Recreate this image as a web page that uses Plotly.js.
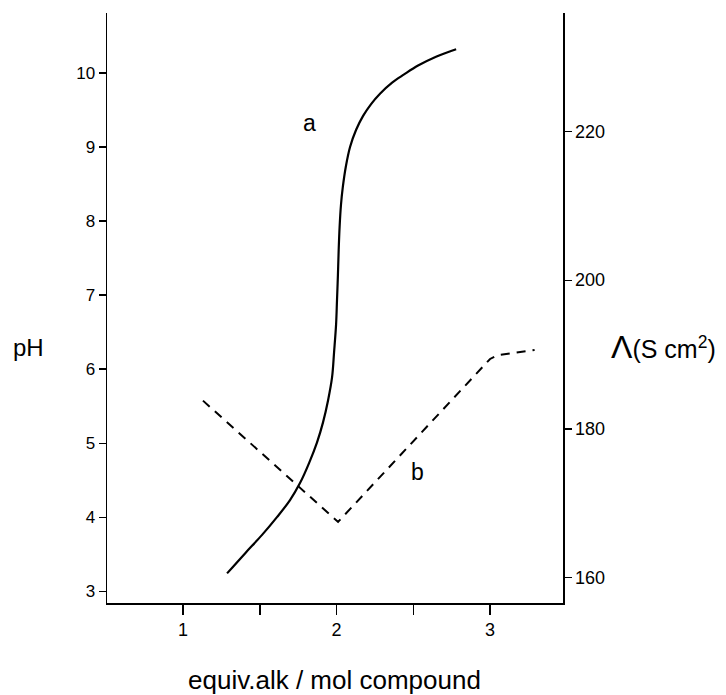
<!DOCTYPE html>
<html>
<head>
<meta charset="utf-8">
<script src="https://cdn.plot.ly/plotly-3.0.1.min.js"></script>
<style>html,body{margin:0;padding:0;background:#fff;}#chart{width:726px;height:695px;}</style>
</head>
<body>
<div id="chart"></div>
<script>
// Curve a: pH vs equivalents of alkali
const phX = [1.287, 1.404, 1.515, 1.612, 1.697, 1.762, 1.821, 1.873, 1.912, 1.945, 1.971, 1.984, 1.997, 2.003, 2.009, 2.014, 2.020, 2.029, 2.041, 2.061, 2.088, 2.127, 2.173, 2.225, 2.283, 2.362, 2.440, 2.531, 2.648, 2.779];
const phY = [3.24, 3.51, 3.76, 4.00, 4.23, 4.46, 4.73, 5.01, 5.28, 5.58, 5.89, 6.23, 6.60, 6.93, 7.27, 7.61, 7.92, 8.22, 8.46, 8.74, 9.00, 9.23, 9.42, 9.58, 9.72, 9.87, 9.98, 10.10, 10.22, 10.32];
// Curve b: molar conductivity vs equivalents of alkali
const condX = [1.13, 2.01, 3.0, 3.05, 3.29];
const condY = [183.8, 167.5, 189.4, 189.9, 190.6];
// Tick labels
const xTickVals = [1, 2, 3];
const xTickText = ['1', '2', '3'];
const xMinorVals = [1.5, 2.5];
const phTicks = [3, 4, 5, 6, 7, 8, 9, 10];
const condTicks = [160, 180, 200, 220];

const font = 'Liberation Sans, Arial, sans-serif';

const traces = [
  {x: phX, y: phY, type: 'scatter', mode: 'lines', line: {color: '#000', width: 2.2, shape: 'spline', smoothing: 1}, yaxis: 'y', hoverinfo: 'skip'},
  {x: condX, y: condY, type: 'scatter', mode: 'lines', line: {color: '#000', width: 2, dash: '9px,7px'}, yaxis: 'y2', hoverinfo: 'skip'}
];

const plotW = 726 - 107 - 163, plotH = 695 - 13 - 92;
function px2paperX(px) { return (px - 107) / plotW; }
function px2paperY(py) { return (695 - 92 - py) / plotH; }

const layout = {
  width: 726, height: 695,
  margin: {l: 107, r: 163, t: 13, b: 92},
  paper_bgcolor: '#fff', plot_bgcolor: '#fff',
  showlegend: false,
  font: {family: font, color: '#000', size: 17},
  xaxis: {
    range: [0.505, 3.475], tickmode: 'array', tickvals: xTickVals, ticktext: xTickText,
    ticks: 'outside', ticklen: 10, tickwidth: 1.5, tickcolor: '#000',
    minor: {tickmode: 'array', tickvals: xMinorVals, ticks: 'outside', ticklen: 10, tickwidth: 1.5, tickcolor: '#000', showgrid: false},
    showline: true, linecolor: '#000', linewidth: 1.5, showgrid: false, zeroline: false,
    tickfont: {family: font, size: 18, color: '#000'}
  },
  yaxis: {
    range: [2.84, 10.81], tickmode: 'array', tickvals: phTicks,
    ticks: 'outside', ticklen: 7, tickwidth: 1.2, tickcolor: '#000',
    showline: true, linecolor: '#000', linewidth: 1.5, showgrid: false, zeroline: false,
    tickfont: {family: font, size: 17, color: '#000'}
  },
  yaxis2: {
    range: [156.6, 235.9], overlaying: 'y', side: 'right', tickmode: 'array', tickvals: condTicks,
    ticks: 'outside', ticklen: 7, tickwidth: 1.2, tickcolor: '#000',
    showline: true, linecolor: '#000', linewidth: 1.5, showgrid: false, zeroline: false,
    tickfont: {family: font, size: 18, color: '#000'}
  },
  annotations: [
    {text: 'a', x: 1.827, y: 9.32, xref: 'x', yref: 'y', xanchor: 'center', yanchor: 'middle', showarrow: false, font: {size: 23}},
    {text: 'b', x: 2.53, y: 4.61, xref: 'x', yref: 'y', xanchor: 'center', yanchor: 'middle', showarrow: false, font: {size: 23}},
    {text: 'pH', x: px2paperX(28), y: px2paperY(347), xref: 'paper', yref: 'paper', xanchor: 'center', yanchor: 'middle', showarrow: false, font: {size: 24}},
    {text: 'equiv.alk / mol compound', xref: 'paper', yref: 'paper', x: px2paperX(334), y: px2paperY(680), xanchor: 'center', yanchor: 'middle', showarrow: false, font: {size: 26}},
    {text: '<span style="font-size:32px">Λ</span>(S cm<sup>2</sup>)', xref: 'paper', yref: 'paper', x: px2paperX(663), y: px2paperY(347), xanchor: 'center', yanchor: 'middle', showarrow: false, font: {size: 25}}
  ]
};

Plotly.newPlot('chart', traces, layout, {displayModeBar: false, staticPlot: true});
</script>
</body>
</html>
